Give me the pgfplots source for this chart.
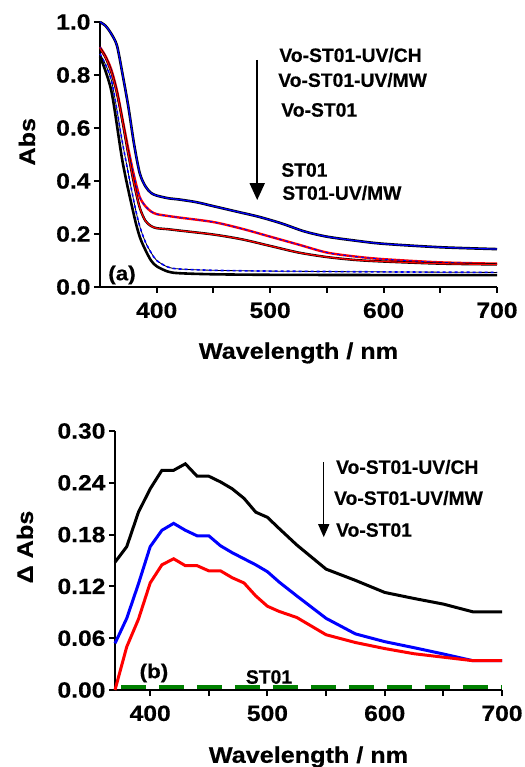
\documentclass[border=0pt]{standalone}
\usepackage{pgfplots}
\pgfplotsset{compat=1.18}
\usepackage{fontspec}
\setmainfont{Liberation Sans}[BoldFeatures={FakeBold=0.4}]
\newfontfamily\widefont{Liberation Sans}[FakeStretch=1.12, BoldFeatures={FakeBold=0.5}]
\usetikzlibrary{arrows.meta}
\definecolor{dgreen}{RGB}{0,128,0}
\pgfplotsset{
  myax/.style={
    scale only axis, axis lines=left, axis line style={-, line width=2pt},
    tick align=outside, tick style={line width=2pt, black},
    major tick length=6pt, minor tick length=6pt,
    xtick pos=left, ytick pos=left,
    /pgf/number format/assume math mode=true,
    ticklabel style={font=\widefont\fontsize{22}{22}\selectfont\bfseries},
    xticklabel style={yshift=-6pt},
    label style={font=\widefont\fontsize{22.5}{22.5}\selectfont\bfseries},
    clip=false,
  }
}
\newcommand{\lab}{\fontsize{19.3}{19.3}\selectfont\bfseries}
\begin{document}
\begin{tikzpicture}[x=1pt,y=1pt]
\path[use as bounding box] (0,0) rectangle (524,767);
% ---------------- panel (a)
\begin{axis}[myax, at={(100pt,480pt)}, anchor=south west,
  width=397pt, height=265pt,
  xmin=350, xmax=700, ymin=0, ymax=1.0,
  xtick={400,500,600,700}, minor xtick={450,550,650},
  ytick={0,0.2,0.4,0.6,0.8,1.0},
  yticklabel style={/pgf/number format/.cd, fixed, fixed zerofill, precision=1},
  xlabel={Wavelength / nm}, ylabel={Abs},
  xlabel style={at={(axis description cs:0.5,0)}, anchor=center, yshift=-66pt},
  ylabel style={at={(axis description cs:-0.184,0.548)}, anchor=center},
]
% top (Vo-ST01-UV/CH)
\addplot[black, line width=2.6pt, smooth] coordinates {(350,1.00)(355,0.985)(360,0.955)(365,0.91)(370,0.80)(375,0.68)(380,0.54)(385,0.43)(390,0.38)(395,0.355)(400,0.345)(410,0.335)(420,0.33)(435,0.32)(450,0.305)(470,0.285)(490,0.265)(510,0.24)(530,0.21)(550,0.19)(575,0.175)(600,0.163)(650,0.150)(700,0.143)};
\addplot[blue, line width=1.2pt, smooth] coordinates {(350,1.00)(355,0.985)(360,0.955)(365,0.91)(370,0.80)(375,0.68)(380,0.54)(385,0.43)(390,0.38)(395,0.355)(400,0.345)(410,0.335)(420,0.33)(435,0.32)(450,0.305)(470,0.285)(490,0.265)(510,0.24)(530,0.21)(550,0.19)(575,0.175)(600,0.163)(650,0.150)(700,0.143)};
% second (red/blue)
\addplot[red, line width=2.4pt, smooth] coordinates {(350,0.905)(355,0.87)(360,0.82)(365,0.74)(370,0.63)(375,0.52)(380,0.42)(385,0.34)(390,0.305)(395,0.285)(400,0.275)(410,0.268)(420,0.262)(450,0.245)(475,0.22)(500,0.19)(525,0.16)(550,0.13)(575,0.115)(600,0.105)(650,0.093)(700,0.088)};
\addplot[blue, line width=1.0pt, dashed, smooth] coordinates {(350,0.905)(355,0.87)(360,0.82)(365,0.74)(370,0.63)(375,0.52)(380,0.42)(385,0.34)(390,0.305)(395,0.285)(400,0.275)(410,0.268)(420,0.262)(450,0.245)(475,0.22)(500,0.19)(525,0.16)(550,0.13)(575,0.115)(600,0.105)(650,0.093)(700,0.088)};
% third (black/red)
\addplot[black, line width=2.4pt, smooth] coordinates {(350,0.90)(355,0.865)(360,0.81)(365,0.73)(370,0.62)(375,0.50)(380,0.39)(385,0.30)(390,0.25)(395,0.23)(400,0.222)(410,0.218)(420,0.213)(450,0.198)(475,0.18)(500,0.155)(525,0.13)(550,0.113)(575,0.102)(600,0.096)(650,0.088)(700,0.085)};
\addplot[red, line width=1.2pt, smooth] coordinates {(350,0.90)(355,0.865)(360,0.81)(365,0.73)(370,0.62)(375,0.50)(380,0.39)(385,0.30)(390,0.25)(395,0.23)(400,0.222)(410,0.218)(420,0.213)(450,0.198)(475,0.18)(500,0.155)(525,0.13)(550,0.113)(575,0.102)(600,0.096)(650,0.088)(700,0.085)};
% bottom (ST01, ST01-UV/MW)
\addplot[black, line width=0.8pt, smooth] coordinates {(350,0.88)(360,0.78)(370,0.54)(380,0.32)(385,0.23)(390,0.17)(395,0.13)(400,0.10)(410,0.075)(420,0.068)(450,0.063)(500,0.060)(600,0.057)(700,0.055)};
\addplot[blue, line width=1.6pt, dashed, smooth] coordinates {(350,0.88)(360,0.78)(370,0.54)(380,0.32)(385,0.23)(390,0.17)(395,0.13)(400,0.10)(410,0.075)(420,0.068)(450,0.063)(500,0.060)(600,0.057)(700,0.055)};
\addplot[black, line width=2.6pt, smooth] coordinates {(350,0.87)(360,0.74)(370,0.47)(380,0.27)(385,0.19)(390,0.14)(395,0.10)(400,0.078)(410,0.058)(420,0.052)(450,0.048)(500,0.046)(600,0.045)(700,0.045)};
\draw[line width=2pt, -{Triangle[width=15pt,length=17pt]}] (axis cs:488.6,0.857) -- (axis cs:488.6,0.328);
\node[anchor=west, inner sep=0pt, font=\lab] at (axis cs:508,0.875) {Vo-ST01-UV/CH};
\node[anchor=west, inner sep=0pt, font=\lab] at (axis cs:507,0.781) {Vo-ST01-UV/MW};
\node[anchor=west, inner sep=0pt, font=\lab] at (axis cs:509.7,0.668) {Vo-ST01};
\node[anchor=west, inner sep=0pt, font=\lab] at (axis cs:509.7,0.4415) {ST01};
\node[anchor=west, inner sep=0pt, font=\lab] at (axis cs:510.6,0.355) {ST01-UV/MW};
\node[inner sep=0pt, font=\widefont\fontsize{20}{20}\selectfont\bfseries] at (axis cs:369.4,0.045) {(a)};
\end{axis}
% ---------------- panel (b)
\begin{axis}[myax, at={(115pt,77pt)}, anchor=south west,
  width=387pt, height=259pt,
  xmin=370, xmax=700, ymin=0, ymax=0.30,
  xtick={400,500,600,700}, minor xtick={450,550,650},
  ytick={0,0.06,0.12,0.18,0.24,0.30},
  yticklabel style={/pgf/number format/.cd, fixed, fixed zerofill, precision=2},
  xlabel={Wavelength / nm}, ylabel={Δ Abs},
  xlabel style={at={(axis description cs:0.5,0)}, anchor=center, yshift=-67pt},
  ylabel style={at={(axis description cs:-0.233,0.552)}, anchor=center},
]
\addplot[dgreen, line width=4pt, dash pattern=on 25pt off 13pt] coordinates {(375,0.004)(700,0.004)};
\addplot[black, line width=3pt] coordinates {(370,0.148)(380,0.166)(390,0.206)(400,0.233)(410,0.2545)(420,0.2545)(430,0.262)(440,0.2476)(450,0.2476)(460,0.241)(470,0.233)(480,0.222)(490,0.206)(500,0.200)(510,0.187)(525,0.168)(550,0.140)(575,0.127)(600,0.113)(625,0.106)(650,0.0995)(675,0.0906)(700,0.0906)};
\addplot[blue, line width=3pt] coordinates {(370,0.054)(380,0.083)(390,0.123)(400,0.166)(410,0.185)(420,0.193)(430,0.185)(440,0.1786)(450,0.1786)(460,0.167)(470,0.159)(480,0.152)(490,0.145)(500,0.137)(510,0.125)(525,0.109)(550,0.083)(575,0.065)(600,0.056)(625,0.049)(650,0.0417)(675,0.034)(700,0.034)};
\addplot[red, line width=3pt] coordinates {(370,0.0)(380,0.050)(390,0.082)(400,0.124)(410,0.145)(420,0.152)(430,0.144)(440,0.144)(450,0.138)(460,0.138)(470,0.130)(480,0.124)(490,0.109)(500,0.097)(510,0.091)(525,0.084)(550,0.064)(575,0.055)(600,0.048)(625,0.042)(650,0.038)(675,0.034)(700,0.034)};
\draw[line width=1.5pt, -{Triangle[width=11pt,length=13pt]}] (axis cs:548,0.264) -- (axis cs:548,0.177);
\node[anchor=west, inner sep=0pt, font=\lab] at (axis cs:558.4,0.2583) {Vo-ST01-UV/CH};
\node[anchor=west, inner sep=0pt, font=\lab] at (axis cs:556.7,0.2224) {Vo-ST01-UV/MW};
\node[anchor=west, inner sep=0pt, font=\lab] at (axis cs:558.4,0.1853) {Vo-ST01};
\node[inner sep=0pt, font=\widefont\fontsize{20}{20}\selectfont\bfseries] at (axis cs:403.2,0.0197) {(b)};
\node[inner sep=0pt, font=\lab] at (axis cs:501.3,0.015) {ST01};
\end{axis}
\end{tikzpicture}
\end{document}
